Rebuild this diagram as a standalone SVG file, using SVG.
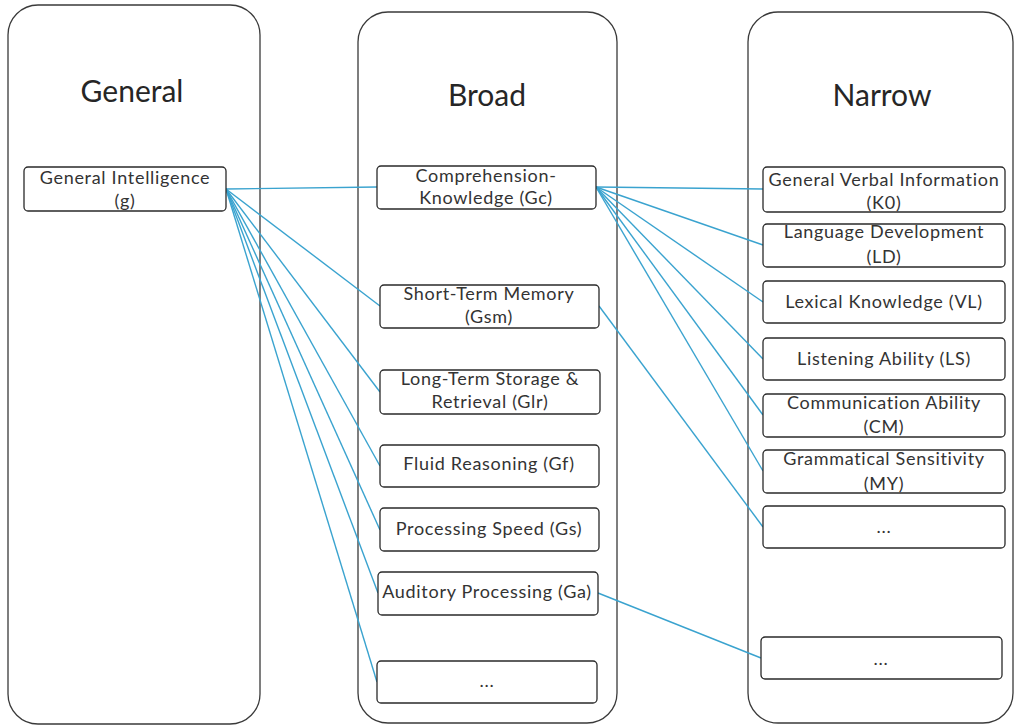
<svg xmlns="http://www.w3.org/2000/svg" width="1015" height="726" viewBox="0 0 1015 726">
  <style>
    .panel { fill: #ffffff; stroke: #3a3a3a; stroke-width: 1.3; }
    .box { fill: #ffffff; stroke: #2a2a2a; stroke-width: 1.3; }
    .title { font-family: Lato, "Open Sans", sans-serif; font-size: 30px; fill: #262626; text-anchor: middle; }
    .lbl { font-family: Lato, "Open Sans", sans-serif; font-size: 18px; letter-spacing: 0.7px; fill: #333333; text-anchor: middle; }
    .link { stroke: #3aa3cf; stroke-width: 1.4; fill: none; }
  </style>
  <rect width="1015" height="726" fill="#ffffff"/>

  <!-- level panels -->
  <g id="panel-general">
    <rect class="panel" x="8" y="5" width="252" height="719" rx="30" ry="30"/>
    <text class="title" x="132" y="102">General</text>
  </g>
  <g id="panel-broad">
    <rect class="panel" x="358" y="12" width="259" height="711" rx="30" ry="30"/>
    <text class="title" x="487" y="106">Broad</text>
  </g>
  <g id="panel-narrow">
    <rect class="panel" x="748" y="12" width="265" height="711" rx="30" ry="30"/>
    <text class="title" x="882" y="106">Narrow</text>
  </g>

  <!-- connectors -->
  <g id="connectors">
    <line class="link" x1="226" y1="189" x2="377" y2="187"/>
    <line class="link" x1="226" y1="189" x2="380" y2="306"/>
    <line class="link" x1="226" y1="189" x2="380" y2="392"/>
    <line class="link" x1="226" y1="189" x2="380" y2="466"/>
    <line class="link" x1="226" y1="189" x2="380" y2="530"/>
    <line class="link" x1="226" y1="189" x2="378" y2="593"/>
    <line class="link" x1="226" y1="189" x2="377" y2="682"/>
    <line class="link" x1="596" y1="187" x2="763" y2="189"/>
    <line class="link" x1="596" y1="187" x2="763" y2="245"/>
    <line class="link" x1="596" y1="187" x2="763" y2="302"/>
    <line class="link" x1="596" y1="187" x2="763" y2="359"/>
    <line class="link" x1="596" y1="187" x2="763" y2="415"/>
    <line class="link" x1="596" y1="187" x2="763" y2="471"/>
    <line class="link" x1="599" y1="306" x2="763" y2="527"/>
    <line class="link" x1="598" y1="593" x2="761" y2="658"/>
  </g>

  <!-- general level -->
  <g id="node-g">
    <rect class="box" x="24" y="167" width="202" height="44" rx="4"/>
    <text class="lbl" x="125" y="184">General Intelligence</text>
    <text class="lbl" x="125" y="207">(g)</text>
  </g>

  <!-- broad level -->
  <g id="node-gc">
    <rect class="box" x="377" y="166" width="219" height="43" rx="4"/>
    <text class="lbl" x="486" y="182">Comprehension-</text>
    <text class="lbl" x="486" y="204">Knowledge (Gc)</text>
  </g>
  <g id="node-gsm">
    <rect class="box" x="380" y="285" width="219" height="43" rx="4"/>
    <text class="lbl" x="489" y="300">Short-Term Memory</text>
    <text class="lbl" x="489" y="323">(Gsm)</text>
  </g>
  <g id="node-glr">
    <rect class="box" x="380" y="370" width="220" height="44" rx="4"/>
    <text class="lbl" x="490" y="385">Long-Term Storage &amp;</text>
    <text class="lbl" x="490" y="408">Retrieval (Glr)</text>
  </g>
  <g id="node-gf">
    <rect class="box" x="380" y="445" width="219" height="42" rx="4"/>
    <text class="lbl" x="489" y="470">Fluid Reasoning (Gf)</text>
  </g>
  <g id="node-gs">
    <rect class="box" x="380" y="508" width="219" height="43" rx="4"/>
    <text class="lbl" x="489" y="535">Processing Speed (Gs)</text>
  </g>
  <g id="node-ga">
    <rect class="box" x="378" y="572" width="220" height="43" rx="4"/>
    <text class="lbl" x="487" y="598">Auditory Processing (Ga)</text>
  </g>
  <g id="node-broad-more">
    <rect class="box" x="377" y="661" width="220" height="42" rx="4"/>
    <text class="lbl" x="487" y="687">...</text>
  </g>

  <!-- narrow level -->
  <g id="node-ko">
    <rect class="box" x="763" y="167" width="242" height="45" rx="4"/>
    <text class="lbl" x="884" y="186">General Verbal Information</text>
    <text class="lbl" x="884" y="209">(K0)</text>
  </g>
  <g id="node-ld">
    <rect class="box" x="763" y="224" width="242" height="43" rx="4"/>
    <text class="lbl" x="884" y="238">Language Development</text>
    <text class="lbl" x="884" y="263">(LD)</text>
  </g>
  <g id="node-vl">
    <rect class="box" x="763" y="281" width="242" height="42" rx="4"/>
    <text class="lbl" x="884" y="308">Lexical Knowledge (VL)</text>
  </g>
  <g id="node-ls">
    <rect class="box" x="763" y="338" width="242" height="42" rx="4"/>
    <text class="lbl" x="884" y="365">Listening Ability (LS)</text>
  </g>
  <g id="node-cm">
    <rect class="box" x="763" y="394" width="242" height="43" rx="4"/>
    <text class="lbl" x="884" y="409">Communication Ability</text>
    <text class="lbl" x="884" y="433">(CM)</text>
  </g>
  <g id="node-my">
    <rect class="box" x="763" y="450" width="242" height="43" rx="4"/>
    <text class="lbl" x="884" y="465">Grammatical Sensitivity</text>
    <text class="lbl" x="884" y="490">(MY)</text>
  </g>
  <g id="node-narrow-more-1">
    <rect class="box" x="763" y="506" width="242" height="42" rx="4"/>
    <text class="lbl" x="884" y="533">...</text>
  </g>
  <g id="node-narrow-more-2">
    <rect class="box" x="761" y="637" width="241" height="42" rx="4"/>
    <text class="lbl" x="881" y="665">...</text>
  </g>
</svg>
